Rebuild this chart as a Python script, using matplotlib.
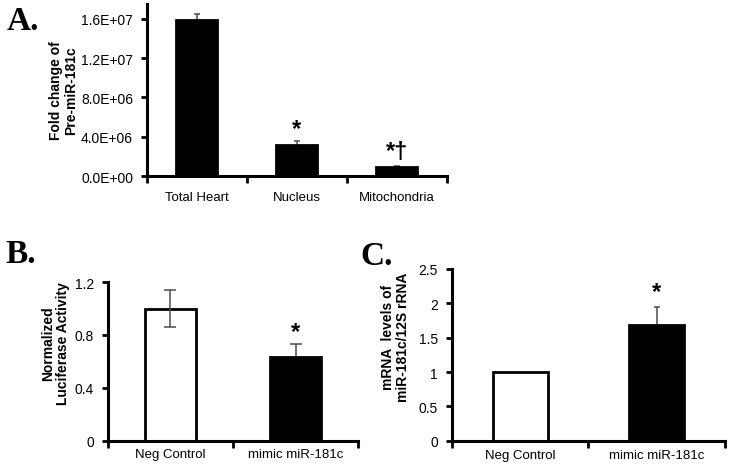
import matplotlib.pyplot as plt
import numpy as np

# Panel A data
a_cats = ['Total Heart', 'Nucleus', 'Mitochondria']
a_vals = [1.59e7, 3.16e6, 0.92e6]
a_err = [0.58e6, 0.37e6, 0.05e6]
a_marks = ['', '*', '*\u2020']

# Panel B data
b_cats = ['Neg Control', 'mimic miR-181c']
b_vals = [1.0, 0.635]
b_err = [0.14, 0.10]
b_marks = ['', '*']

# Panel C data
c_cats = ['Neg Control', 'mimic miR-181c']
c_vals = [1.0, 1.69]
c_err = [0.0, 0.26]
c_marks = ['', '*']

plt.rcParams['font.family'] = ['Liberation Sans', 'DejaVu Sans']

fig = plt.figure(figsize=(7.29, 4.77), dpi=100)


def panel(rect, cats, vals, errs, colors, marks, mark_y, ylim, yticks, ylabels,
          ylabel, label_xy, capsize, xpad, width):
    ax = fig.add_axes(rect)
    x = np.arange(len(cats))
    for i in range(len(cats)):
        dark = colors[i] == 'black'
        ax.bar(x[i], vals[i], width=width, color=colors[i], edgecolor='black',
               linewidth=2, zorder=2 if dark else 0)
        if errs[i] > 0:
            ax.errorbar(x[i], vals[i], yerr=errs[i], fmt='none', ecolor='#4d4d4d',
                        elinewidth=1.1, capsize=capsize, capthick=1.1, zorder=1)
        if marks[i]:
            ax.text(x[i], mark_y[i], marks[i], ha='center', va='center',
                    fontsize=17, fontweight='bold')
    ax.set_xlim(-0.5, len(cats) - 0.5)
    ax.set_ylim(*ylim)
    ax.set_yticks(yticks)
    ax.set_yticklabels(ylabels, fontsize=10)
    ax.set_xticks(x)
    ax.set_xticklabels(cats, fontsize=9.5)
    ax.set_xticks(np.arange(len(cats) + 1) - 0.5, minor=True)
    ax.tick_params(axis='x', which='major', length=0, pad=xpad)
    ax.tick_params(axis='x', which='minor', length=5, width=2, direction='out')
    ax.tick_params(axis='y', length=4, width=2, pad=6)
    for s in ['top', 'right']:
        ax.spines[s].set_visible(False)
    for s in ['left', 'bottom']:
        ax.spines[s].set_linewidth(2.2)
    ax.set_ylabel(ylabel, fontsize=10, fontweight='bold', linespacing=1.05)
    ax.yaxis.set_label_coords(*label_xy)
    return ax


panel([0.2016, 0.6289, 0.4115, 0.3606], a_cats, a_vals, a_err,
      ['black'] * 3, a_marks, [None, 4.8e6, 2.45e6], (0, 1.75e7),
      [0, 4e6, 8e6, 1.2e7, 1.6e7], ['0.0E+00', '4.0E+06', '8.0E+06', '1.2E+07', '1.6E+07'],
      'Fold change of\nPre-miR-181c', (-0.23, 0.5), 2.5, 11, 0.41)

panel([0.1481, 0.0734, 0.343, 0.3333], b_cats, b_vals, b_err,
      ['white', 'black'], b_marks, [None, 0.83], (0, 1.2),
      [0, 0.4, 0.8, 1.2], ['0', '0.4', '0.8', '1.2'],
      'Normalized\nLuciferase Activity', (-0.152, 0.62), 4.5, 5, 0.41)

panel([0.620, 0.074, 0.3745, 0.36], c_cats, c_vals, c_err,
      ['white', 'black'], c_marks, [None, 2.17], (0, 2.5),
      [0, 0.5, 1, 1.5, 2, 2.5], ['0', '0.5', '1', '1.5', '2', '2.5'],
      'mRNA  levels of\nmiR-181c/12S rRNA', (-0.154, 0.61), 2.5, 6, 0.40)

serif = ['Liberation Serif', 'DejaVu Serif']
fig.text(0.0096, 0.937, 'A.', fontsize=24, fontweight='bold', family=serif, va='baseline')
fig.text(0.007, 0.449, 'B.', fontsize=24, fontweight='bold', family=serif, va='baseline')
fig.text(0.494, 0.445, 'C.', fontsize=24, fontweight='bold', family=serif, va='baseline')

fig.savefig('out.png', dpi=100)
